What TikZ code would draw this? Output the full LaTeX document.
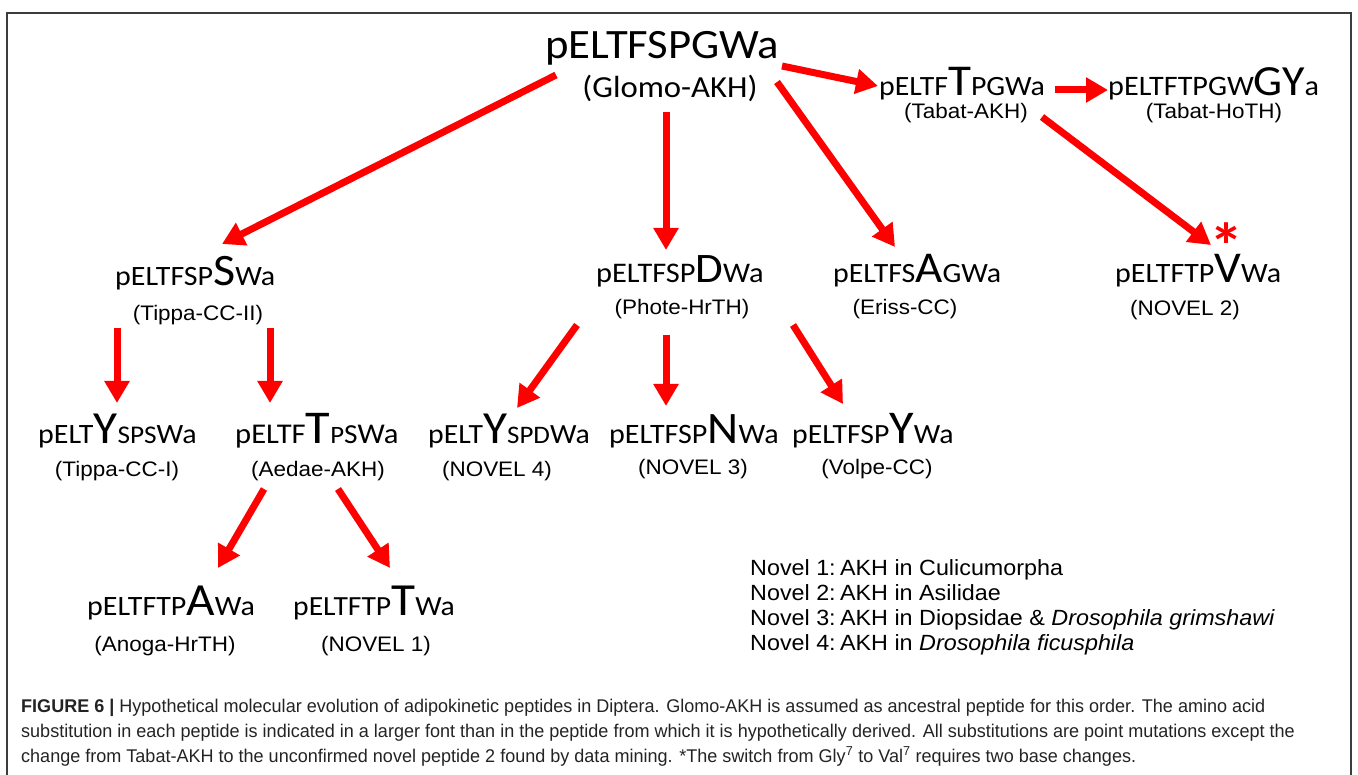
\documentclass[tikz,border=0pt]{standalone}
\usepackage{fontspec}
\usetikzlibrary{arrows.meta}
\newfontfamily\pepfont[FakeStretch=1.07]{Carlito}
\newfontfamily\namefont[FakeStretch=1.07]{Liberation Sans}
\newfontfamily\legfont[FakeStretch=1.06]{Liberation Sans}
\newfontfamily\capfont[FakeStretch=0.98]{Liberation Sans}
\newcommand\fsz[2]{{\fontsize{#1}{#1}\selectfont #2}}
\definecolor{arrred}{RGB}{255,0,0}
\definecolor{framegray}{RGB}{60,60,60}
\definecolor{captext}{RGB}{35,35,35}
\begin{document}
\begin{tikzpicture}[x=1pt,y=-1pt,
  pep/.style={anchor=base west,inner sep=0pt,font=\pepfont},
  pepname/.style={anchor=base,inner sep=0pt,font=\pepfont},
  nmlabel/.style={anchor=base,inner sep=0pt,font=\namefont\fontsize{21}{21}\selectfont},
  legtxt/.style={anchor=base west,inner sep=0pt,font=\legfont\fontsize{22}{22}\selectfont},
  captxt/.style={anchor=base west,inner sep=0pt,text=captext,font=\capfont\fontsize{18.4}{18.4}\selectfont},
  arr/.style={draw=arrred,line width=7pt,-{Triangle[length=22pt,width=24pt]}},
  asterisk/.style={inner sep=0pt,text=arrred,font=\pepfont\bfseries\fontsize{64}{64}\selectfont}]
\useasboundingbox (0,0) rectangle (1358,775);
% frame
\draw[framegray,line width=1.5pt] (7,776) -- (7,13) -- (1351,13) -- (1351,776);

% row 1
\node[pep] (glomo) at (545,59) {\fsz{41.8}{pELTFSPGWa}};
\node[pepname] (glomon) at (670,98) {\fsz{30.6}{(Glomo-AKH)}};
\node[pep] (tabat) at (879,96) {\fsz{27.9}{pELTF}\fsz{44}{T}\fsz{27.9}{PGWa}};
\node[nmlabel] (tabatn) at (966,119) {(Tabat-AKH)};
\node[pep] (hoth) at (1108,96) {\fsz{28.2}{pELTFTPGW}\fsz{43}{GY}\fsz{28.2}{a}};
\node[nmlabel] (hothn) at (1214,119) {(Tabat-HoTH)};

% row 2
\node[pep] (tippa2) at (115,286) {\fsz{28}{pELTFSP}\fsz{45}{S}\fsz{28}{Wa}};
\node[nmlabel] (tippa2n) at (198,321) {(Tippa-CC-II)};
\node[pep] (phote) at (596,283) {\fsz{28.4}{pELTFSP}\fsz{42}{D}\fsz{28.4}{Wa}};
\node[nmlabel] (photen) at (682,315) {(Phote-HrTH)};
\node[pep] (eriss) at (833,283) {\fsz{27.9}{pELTFS}\fsz{44}{A}\fsz{27.9}{GWa}};
\node[nmlabel] (erissn) at (905,315) {(Eriss-CC)};
\node[pep] (nov2) at (1115,283) {\fsz{28}{pELTFTP}\fsz{44}{V}\fsz{28}{Wa}};
\node[nmlabel] (nov2n) at (1185,316) {(NOVEL 2)};
\node[asterisk] (ast) at (1227,246) {*};

% row 3
\node[pep] (tippa1) at (38,444) {\fsz{28}{pELT}\fsz{46}{Y}\fsz{25.5}{SPS}\fsz{28}{Wa}};
\node[nmlabel] (tippa1n) at (117,477) {(Tippa-CC-I)};
\node[pep] (aedae) at (235,444) {\fsz{28.6}{pELTF}\fsz{47}{T}\fsz{25}{P}\fsz{27.5}{S}\fsz{28.6}{Wa}};
\node[nmlabel] (aedaen) at (318,477) {(Aedae-AKH)};
\node[pep] (nov4) at (428,444) {\fsz{27.8}{pELT}\fsz{46}{Y}\fsz{25.2}{SPD}\fsz{27.8}{Wa}};
\node[nmlabel] (nov4n) at (497,477) {(NOVEL 4)};
\node[pep] (nov3) at (609,444) {\fsz{28.1}{pELTFSP}\fsz{45}{N}\fsz{28.1}{Wa}};
\node[nmlabel] (nov3n) at (693,475) {(NOVEL 3)};
\node[pep] (volpe) at (792,444) {\fsz{27.8}{pELTFSP}\fsz{47}{Y}\fsz{27.8}{Wa}};
\node[nmlabel] (volpen) at (877,475) {(Volpe-CC)};

% row 4
\node[pep] (anoga) at (87,615) {\fsz{28}{pELTFTP}\fsz{46}{A}\fsz{28}{Wa}};
\node[nmlabel] (anogan) at (165,651) {(Anoga-HrTH)};
\node[pep] (nov1) at (293,615) {\fsz{27.7}{pELTFTP}\fsz{46}{T}\fsz{27.7}{Wa}};
\node[nmlabel] (nov1n) at (376,651) {(NOVEL 1)};

% legend
\node[legtxt] (l1) at (750,575) {Novel 1:\hspace{0.2em}AKH in Culicumorpha};
\node[legtxt] (l2) at (750,600) {Novel 2:\hspace{0.2em}AKH in Asilidae};
\node[legtxt] (l3) at (750,625) {Novel 3:\hspace{0.2em}AKH in Diopsidae \& \textit{Drosophila grimshawi}};
\node[legtxt] (l4) at (750,650) {Novel 4:\hspace{0.2em}AKH in \textit{Drosophila ficusphila}};

% caption
\node[captxt] (c1) at (21,712) {\textbf{FIGURE 6 |} Hypothetical molecular evolution of adipokinetic peptides in Diptera. Glomo-AKH is assumed as ancestral peptide for this order. The amino acid};
\node[captxt] (c2) at (21,737) {substitution in each peptide is indicated in a larger font than in the peptide from which it is hypothetically derived. All substitutions are point mutations except the};
\node[captxt] (c3) at (21,762) {change from Tabat-AKH to the unconfirmed novel peptide 2 found by data mining. *The switch from Gly\textsuperscript{7} to Val\textsuperscript{7} requires two base changes.};

% arrow end points
\coordinate (a1s) at (556,75);   \coordinate (a1e) at (222,244);
\coordinate (a2s) at (782,66);   \coordinate (a2e) at (878,86);
\coordinate (a3s) at (666,112);  \coordinate (a3e) at (666,250);
\coordinate (a4s) at (777,82);   \coordinate (a4e) at (895,247);
\coordinate (a5s) at (1055,90);  \coordinate (a5e) at (1108,90);
\coordinate (a6s) at (1042,117); \coordinate (a6e) at (1211,245);
\coordinate (a7s) at (117,328);  \coordinate (a7e) at (117,403);
\coordinate (a8s) at (270,328);  \coordinate (a8e) at (270,403);
\coordinate (a9s) at (577,325);  \coordinate (a9e) at (517,408);
\coordinate (a10s) at (666,335); \coordinate (a10e) at (666,406);
\coordinate (a11s) at (793,325); \coordinate (a11e) at (843,404);
\coordinate (a12s) at (264,489); \coordinate (a12e) at (218,568);
\coordinate (a13s) at (338,489); \coordinate (a13e) at (390,568);

\draw[arr] (a1s) -- (a1e);
\draw[arr] (a2s) -- (a2e);
\draw[arr] (a3s) -- (a3e);
\draw[arr] (a4s) -- (a4e);
\draw[arr] (a5s) -- (a5e);
\draw[arr] (a6s) -- (a6e);
\draw[arr] (a7s) -- (a7e);
\draw[arr] (a8s) -- (a8e);
\draw[arr] (a9s) -- (a9e);
\draw[arr] (a10s) -- (a10e);
\draw[arr] (a11s) -- (a11e);
\draw[arr] (a12s) -- (a12e);
\draw[arr] (a13s) -- (a13e);
\end{tikzpicture}
\end{document}
